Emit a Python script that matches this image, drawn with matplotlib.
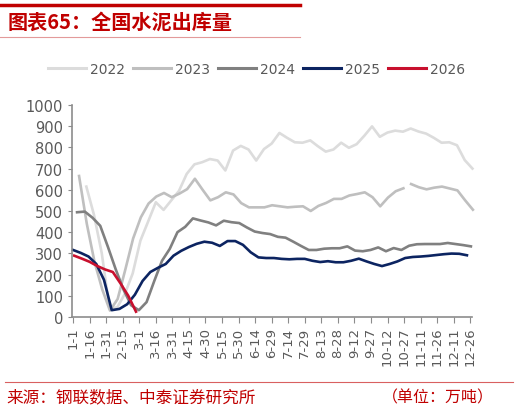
"""全国水泥出库量：2022-2026 weekly comparison chart."""

import numpy as np
import matplotlib
matplotlib.use("Agg")
import matplotlib.pyplot as plt
from matplotlib.lines import Line2D

plt.rcParams['font.family'] = ['DejaVu Sans', 'Noto Sans CJK SC']

# x axis: day of year, labelled every 15 days
tick_labels = ['1-1', '1-16', '1-31', '2-15', '3-1', '3-16', '3-31', '4-15',
               '4-30', '5-15', '5-30', '6-14', '6-29', '7-14', '7-29', '8-13',
               '8-28', '9-12', '9-27', '10-12', '10-27', '11-11', '11-26',
               '12-11', '12-26']

# weekly readings (万吨), first reading day per year
start_2022 = 12
y2022 = [615, 480, 300, 40, 45, 110, 205, 360, 450, 541, 505, 550, 595, 675,
         720, 730, 745, 738, 691, 785, 807, 790, 738, 792, 818, 868, 845, 824,
         822, 833, 805, 780, 790, 822, 798, 815, 855, 899, 850, 870, 879, 874,
         889, 875, 865, 845, 822, 824, 810, 740, 700]

start_2023 = 5.4
y2023 = [665, 440, 260, 130, 30, 85, 225, 370, 470, 535, 568, 585, 565, 582,
         603, 652, 600, 550, 565, 588, 578, 537, 517, 517, 517, 527, 522, 517,
         520, 522, 500, 524, 538, 557, 557, 573, 580, 588, 565, 522, 563, 593,
         607, 627, 612, 602, 610, 615, 606, 597, 550, 506]
gap_2023 = 43  # the line is broken before this reading

start_2024 = 3.6
y2024 = [494, 497, 468, 430, 330, 225, 130, 55, 32, 70, 170, 265, 321, 400,
         425, 465, 455, 446, 432, 454, 447, 443, 422, 403, 396, 391, 378, 374,
         355, 335, 316, 316, 322, 324, 324, 333, 313, 310, 316, 328, 310, 325,
         316, 336, 343, 344, 344, 344, 349, 344, 339, 333]

start_2025 = 0
y2025 = [316, 302, 285, 250, 175, 32, 38, 60, 105, 170, 212, 232, 250, 289,
         312, 330, 345, 355, 350, 335, 358, 358, 340, 305, 281, 278, 278, 274,
         272, 274, 274, 265, 259, 263, 258, 258, 265, 275, 262, 250, 240, 250,
         262, 278, 283, 285, 288, 292, 296, 299, 298, 291]

start_2026 = 1
y2026 = [289, 275, 260, 240, 224, 212, 158, 100, 25]

years = ['2022', '2023', '2024', '2025', '2026']
colors = ['#dcdcdc', '#bfbfbf', '#808080', '#0c2461', '#c8102e']

fig = plt.figure(figsize=(5.18, 4.14), dpi=100)
ax = fig.add_axes([0.139, 0.232, 0.772, 0.512])


def week_days(start, values):
    return start + 7 * np.arange(len(values))


x23 = week_days(start_2023, y2023).astype(float)
x23 = np.insert(x23, gap_2023, np.nan)
v23 = np.insert(np.array(y2023, dtype=float), gap_2023, np.nan)

series = [
    (week_days(start_2022, y2022), y2022),
    (x23, v23),
    (week_days(start_2024, y2024), y2024),
    (week_days(start_2025, y2025), y2025),
    (week_days(start_2026, y2026), y2026),
]

for (xs, ys), c in zip(series, colors):
    ax.plot(xs, ys, color=c, lw=1.9, solid_joinstyle='round', clip_on=False)

ax.set_ylim(0, 1000)
ax.set_yticks(range(0, 1001, 100))
ax.set_xlim(-1, 361.5)
ax.set_xticks(np.arange(len(tick_labels)) * 15)
ax.set_xticklabels(tick_labels, rotation=90, fontsize=9.5, color='#595959')
ax.tick_params(axis='y', labelsize=10.5, colors='#595959', length=3, color='#8c8c8c')
ax.tick_params(axis='x', length=4, color='#8c8c8c', pad=3)

for side in ['top', 'right']:
    ax.spines[side].set_visible(False)
for side in ['left', 'bottom']:
    ax.spines[side].set_color('#8c8c8c')
    ax.spines[side].set_linewidth(1.2)

handles = [Line2D([], [], color=c, lw=2.2) for c in colors]
fig.legend(handles, years, loc='center', bbox_to_anchor=(0.495, 0.832),
           ncol=5, frameon=False, fontsize=10, handlelength=2.7,
           handletextpad=0.3, columnspacing=0.6, labelcolor='#595959')

# header and footer
red = '#c00000'
cjk = ['Noto Sans CJK SC', 'DejaVu Sans']
fig.add_artist(Line2D([0.0, 0.58], [0.985, 0.985], color=red, lw=2.5))
fig.add_artist(Line2D([0.0, 0.58], [0.908, 0.908], color='#e39a9a', lw=0.8))
fig.text(0.015, 0.947, '图表65：全国水泥出库量', color=red, fontsize=14.5,
         fontweight='bold', family=cjk, va='center')

fig.add_artist(Line2D([0.01, 0.99], [0.075, 0.075], color='#d96060', lw=0.8))
fig.text(0.012, 0.038, '来源：钢联数据、中泰证券研究所', color=red, fontsize=12,
         family=cjk, va='center')
fig.text(0.953, 0.038, '（单位：万吨）', color=red, fontsize=11.5,
         family=cjk, va='center', ha='right')

fig.savefig('out.png', dpi=100)
